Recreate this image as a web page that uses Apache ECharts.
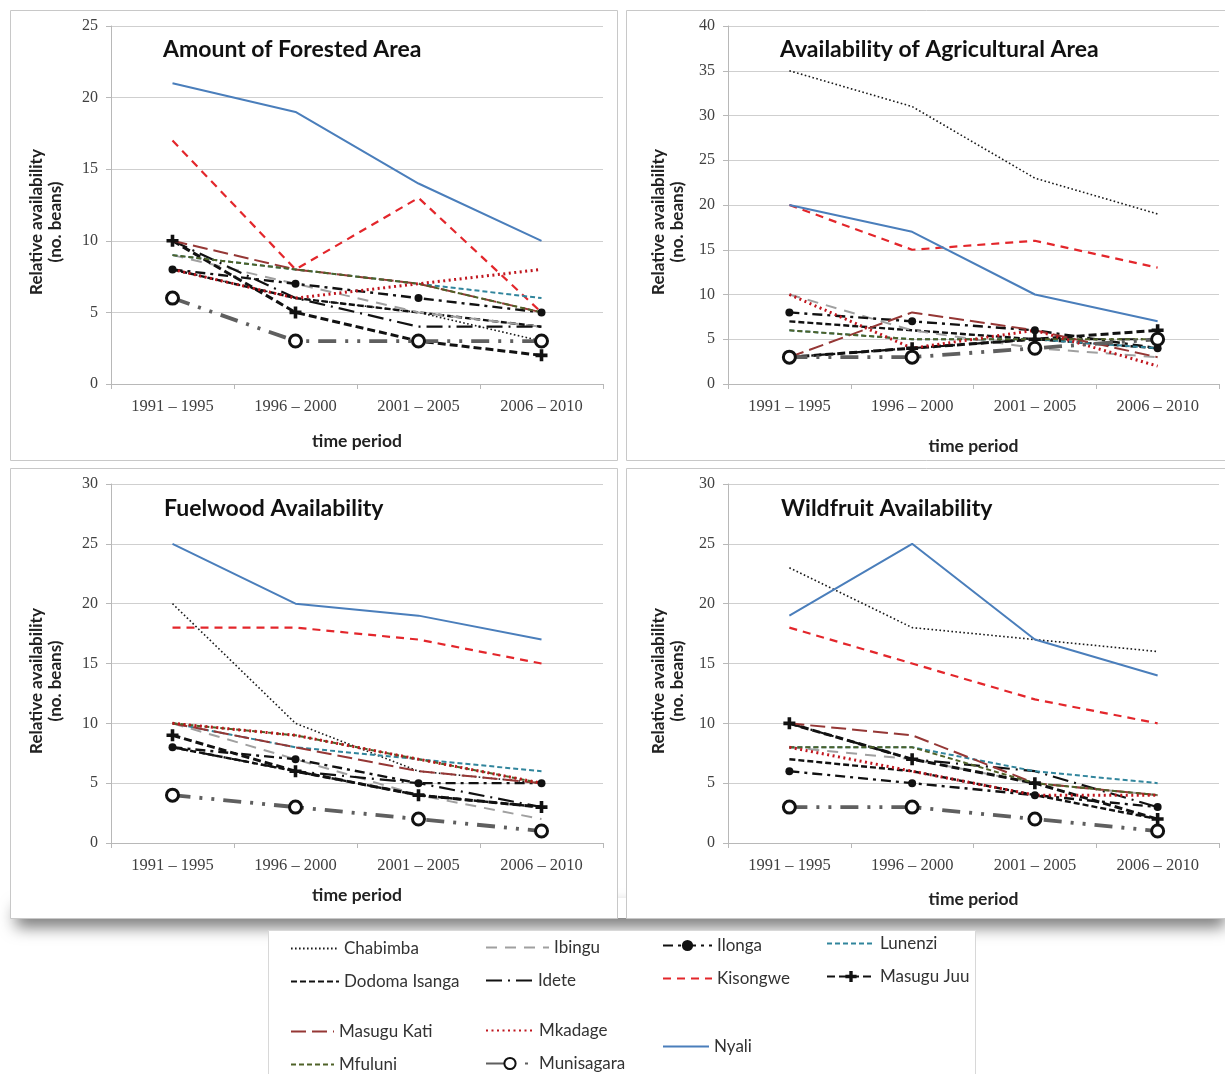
<!DOCTYPE html>
<html><head><meta charset="utf-8">
<script src="https://cdn.jsdelivr.net/npm/echarts@6/dist/echarts.min.js"></script>
<style>html,body{margin:0;padding:0;background:#fff}#c{width:1225px;height:1074px}</style>
</head><body><div id="c"></div><script>
const categories = ['1991 – 1995', '1996 – 2000', '2001 – 2005', '2006 – 2010'];
const villages = ['Chabimba', 'Dodoma Isanga', 'Ibingu', 'Idete', 'Ilonga', 'Kisongwe', 'Lunenzi',
  'Masugu Juu', 'Masugu Kati', 'Mfuluni', 'Mkadage', 'Munisagara', 'Nyali'];
const panelTitles = ['Amount of Forested Area', 'Availability of Agricultural Area', 'Fuelwood Availability', 'Wildfruit Availability'];
const yMax = [25, 40, 30, 30];
const yTitle = 'Relative availability\n(no. beans)';
const xTitle = 'time period';

// rows follow the order of `villages`
const forestedArea = [
  [8, 6, 5, 3],     // Chabimba
  [8, 6, 5, 4],     // Dodoma Isanga
  [9, 7, 5, 4],     // Ibingu
  [10, 6, 4, 4],    // Idete
  [8, 7, 6, 5],     // Ilonga
  [17, 8, 13, 5],   // Kisongwe
  [9, 8, 7, 6],     // Lunenzi
  [10, 5, 3, 2],    // Masugu Juu
  [10, 8, 7, 5],    // Masugu Kati
  [9, 8, 7, 5],     // Mfuluni
  [8, 6, 7, 8],     // Mkadage
  [6, 3, 3, 3],     // Munisagara
  [21, 19, 14, 10]  // Nyali
];
const agriculturalArea = [
  [35, 31, 23, 19],
  [7, 6, 5, 4],
  [10, 6, 4, 3],
  [3, 4, 5, 5],
  [8, 7, 6, 4],
  [20, 15, 16, 13],
  [6, 5, 5, 4],
  [3, 4, 5, 6],
  [3, 8, 6, 3],
  [6, 5, 5, 5],
  [10, 4, 6, 2],
  [3, 3, 4, 5],
  [20, 17, 10, 7]
];
const fuelwood = [
  [20, 10, 6, 5],
  [8, 6, 4, 3],
  [10, 7, 4, 2],
  [8, 6, 5, 3],
  [8, 7, 5, 5],
  [18, 18, 17, 15],
  [10, 8, 7, 6],
  [9, 6, 4, 3],
  [10, 8, 6, 5],
  [10, 9, 7, 5],
  [10, 9, 7, 5],
  [4, 3, 2, 1],
  [25, 20, 19, 17]
];
const wildfruit = [
  [23, 18, 17, 16],
  [7, 6, 4, 2],
  [8, 7, 5, 4],
  [10, 7, 6, 3],
  [6, 5, 4, 3],
  [18, 15, 12, 10],
  [8, 8, 6, 5],
  [10, 7, 5, 2],
  [10, 9, 5, 4],
  [8, 8, 5, 4],
  [8, 6, 4, 4],
  [3, 3, 2, 1],
  [19, 25, 17, 14]
];
const panels = [forestedArea, agriculturalArea, fuelwood, wildfruit];

const plus = 'path://M3.5,0 L6.5,0 L6.5,3.5 L10,3.5 L10,6.5 L6.5,6.5 L6.5,10 L3.5,10 L3.5,6.5 L0,6.5 L0,3.5 L3.5,3.5 Z';
const styles = {
  'Chabimba':      {color: '#1a1a1a', width: 1.6, type: [1.6, 2.4]},
  'Dodoma Isanga': {color: '#111', width: 2.4, type: [6, 3]},
  'Ibingu':        {color: '#a0a0a0', width: 2, type: [11, 8]},
  'Idete':         {color: '#111', width: 2.2, type: [16, 6, 2, 6]},
  'Ilonga':        {color: '#111', width: 2.4, type: [10, 5, 3, 5], symbol: 'circle', size: 8},
  'Kisongwe':      {color: '#e3262b', width: 2.2, type: [8, 6]},
  'Lunenzi':       {color: '#31859c', width: 2, type: [5, 3]},
  'Masugu Juu':    {color: '#111', width: 3, type: [8, 4], symbol: plus, size: 12},
  'Masugu Kati':   {color: '#953735', width: 2, type: [15, 6]},
  'Mfuluni':       {color: '#4f6228', width: 2, type: [5, 3]},
  'Mkadage':       {color: '#c0161e', width: 3, type: [2, 3.5]},
  'Munisagara':    {color: '#5f5f5f', width: 3.8, type: [18, 9, 3, 9, 3, 9], symbol: 'circle', size: 12, ring: true},
  'Nyali':         {color: '#4a7ebb', width: 2, type: 'solid'}
};

const grids = [
  {left: 111, top: 26, width: 492, height: 358},
  {left: 728, top: 26, width: 491, height: 358},
  {left: 111, top: 484, width: 492, height: 359},
  {left: 728, top: 484, width: 491, height: 359}
];
const xNameGap = [48, 53, 43, 47];
const titlePos = [[163, 38], [780, 38], [164, 497], [781, 497]];
const yNamePos = [[46, 222], [668, 222], [46, 681], [668, 681]];

const axisFont = 'Liberation Serif';
const sansFont = 'Lato';

const xAxis = [], yAxis = [], series = [], title = [];
grids.forEach((g, i) => {
  xAxis.push({
    type: 'category', gridIndex: i, data: categories, boundaryGap: true,
    axisLine: {lineStyle: {color: '#b8b8b8', width: 1}},
    axisTick: {show: true, length: 5, lineStyle: {color: '#b8b8b8'}},
    axisLabel: {fontFamily: axisFont, fontSize: 16.5, color: '#404040', margin: 14},
    name: xTitle, nameLocation: 'middle', nameGap: xNameGap[i],
    nameTextStyle: {fontFamily: sansFont, fontWeight: 'bold', fontSize: 17.5, color: '#222'}
  });
  yAxis.push({
    type: 'value', gridIndex: i, min: 0, max: yMax[i], interval: 5,
    axisLine: {show: true, lineStyle: {color: '#b8b8b8', width: 1}},
    axisTick: {show: true, length: 5, lineStyle: {color: '#b8b8b8'}},
    axisLabel: {fontFamily: axisFont, fontSize: 16, color: '#404040', margin: 13},
    splitLine: {lineStyle: {color: '#cfcfcf', width: 1}}
  });
  title.push({
    text: panelTitles[i], left: titlePos[i][0], top: titlePos[i][1], padding: 0,
    textStyle: {fontFamily: sansFont, fontWeight: 'bold', fontSize: 23, color: '#111'}
  });
  panels[i].forEach((vals, k) => {
    const name = villages[k];
    const s = styles[name];
    series.push({
      type: 'line', name: name, xAxisIndex: i, yAxisIndex: i, data: vals,
      symbol: s.symbol || 'none', symbolSize: s.size || 0, showSymbol: !!s.symbol,
      lineStyle: {color: s.color, width: s.width, type: s.type},
      itemStyle: s.ring ? {color: '#fff', borderColor: '#111', borderWidth: 3} : {color: s.color, borderWidth: 0},
      emphasis: {disabled: true}, animation: false, silent: true
    });
  });
});

// legend layout: [left, centre y, icon width]
const legendPos = {
  'Chabimba': [290, 948, 48], 'Ibingu': [485, 947, 63], 'Ilonga': [662, 945, 49], 'Lunenzi': [826, 943, 48],
  'Dodoma Isanga': [290, 981, 48], 'Idete': [485, 980, 47], 'Kisongwe': [662, 978, 49], 'Masugu Juu': [826, 976, 48],
  'Masugu Kati': [290, 1031, 43], 'Mkadage': [485, 1030, 48], 'Nyali': [662, 1046, 46],
  'Mfuluni': [290, 1064, 43], 'Munisagara': [485, 1063, 48]
};
const legend = villages.map(v => ({
  data: [styles[v].symbol ? {name: v} : {name: v, itemStyle: {opacity: 0}}],
  left: legendPos[v][0], top: legendPos[v][1] - 8, orient: 'horizontal', padding: 0,
  itemWidth: legendPos[v][2], itemHeight: 14, itemGap: 4, selectedMode: false,
  textStyle: {fontFamily: sansFont, fontSize: 17, color: '#333'}
}));

const graphic = [
  {type: 'rect', z: -20, shape: {x: 16, y: 898, width: 1209, height: 20},
   style: {fill: '#fff', shadowBlur: 16, shadowColor: 'rgba(0,0,0,0.55)', shadowOffsetY: 9}},
  {type: 'rect', z: -10, shape: {x: 10.5, y: 10.5, width: 607, height: 450}, style: {fill: '#fff', stroke: '#c8c8c8', lineWidth: 1}},
  {type: 'rect', z: -10, shape: {x: 626.5, y: 10.5, width: 610, height: 450}, style: {fill: '#fff', stroke: '#c8c8c8', lineWidth: 1}},
  {type: 'rect', z: -10, shape: {x: 10.5, y: 468.5, width: 607, height: 450}, style: {fill: '#fff', stroke: '#c8c8c8', lineWidth: 1}},
  {type: 'rect', z: -10, shape: {x: 626.5, y: 468.5, width: 610, height: 450}, style: {fill: '#fff', stroke: '#c8c8c8', lineWidth: 1}},
  {type: 'rect', z: -10, shape: {x: 268.5, y: 930.5, width: 707, height: 150}, style: {fill: '#fff', stroke: '#d8d8d8', lineWidth: 1}}
];
yNamePos.forEach(p => {
  graphic.push({
    type: 'text', x: p[0], y: p[1], rotation: Math.PI / 2, z: 10,
    style: {text: yTitle, align: 'center', verticalAlign: 'middle', lineHeight: 19,
      font: 'bold 17px ' + sansFont, fill: '#222'}
  });
});

const chart = echarts.init(document.getElementById('c'), null, {renderer: 'canvas'});
chart.setOption({
  animation: false, backgroundColor: '#fff',
  grid: grids, xAxis, yAxis, series, title, legend, graphic
});
</script></body></html>
